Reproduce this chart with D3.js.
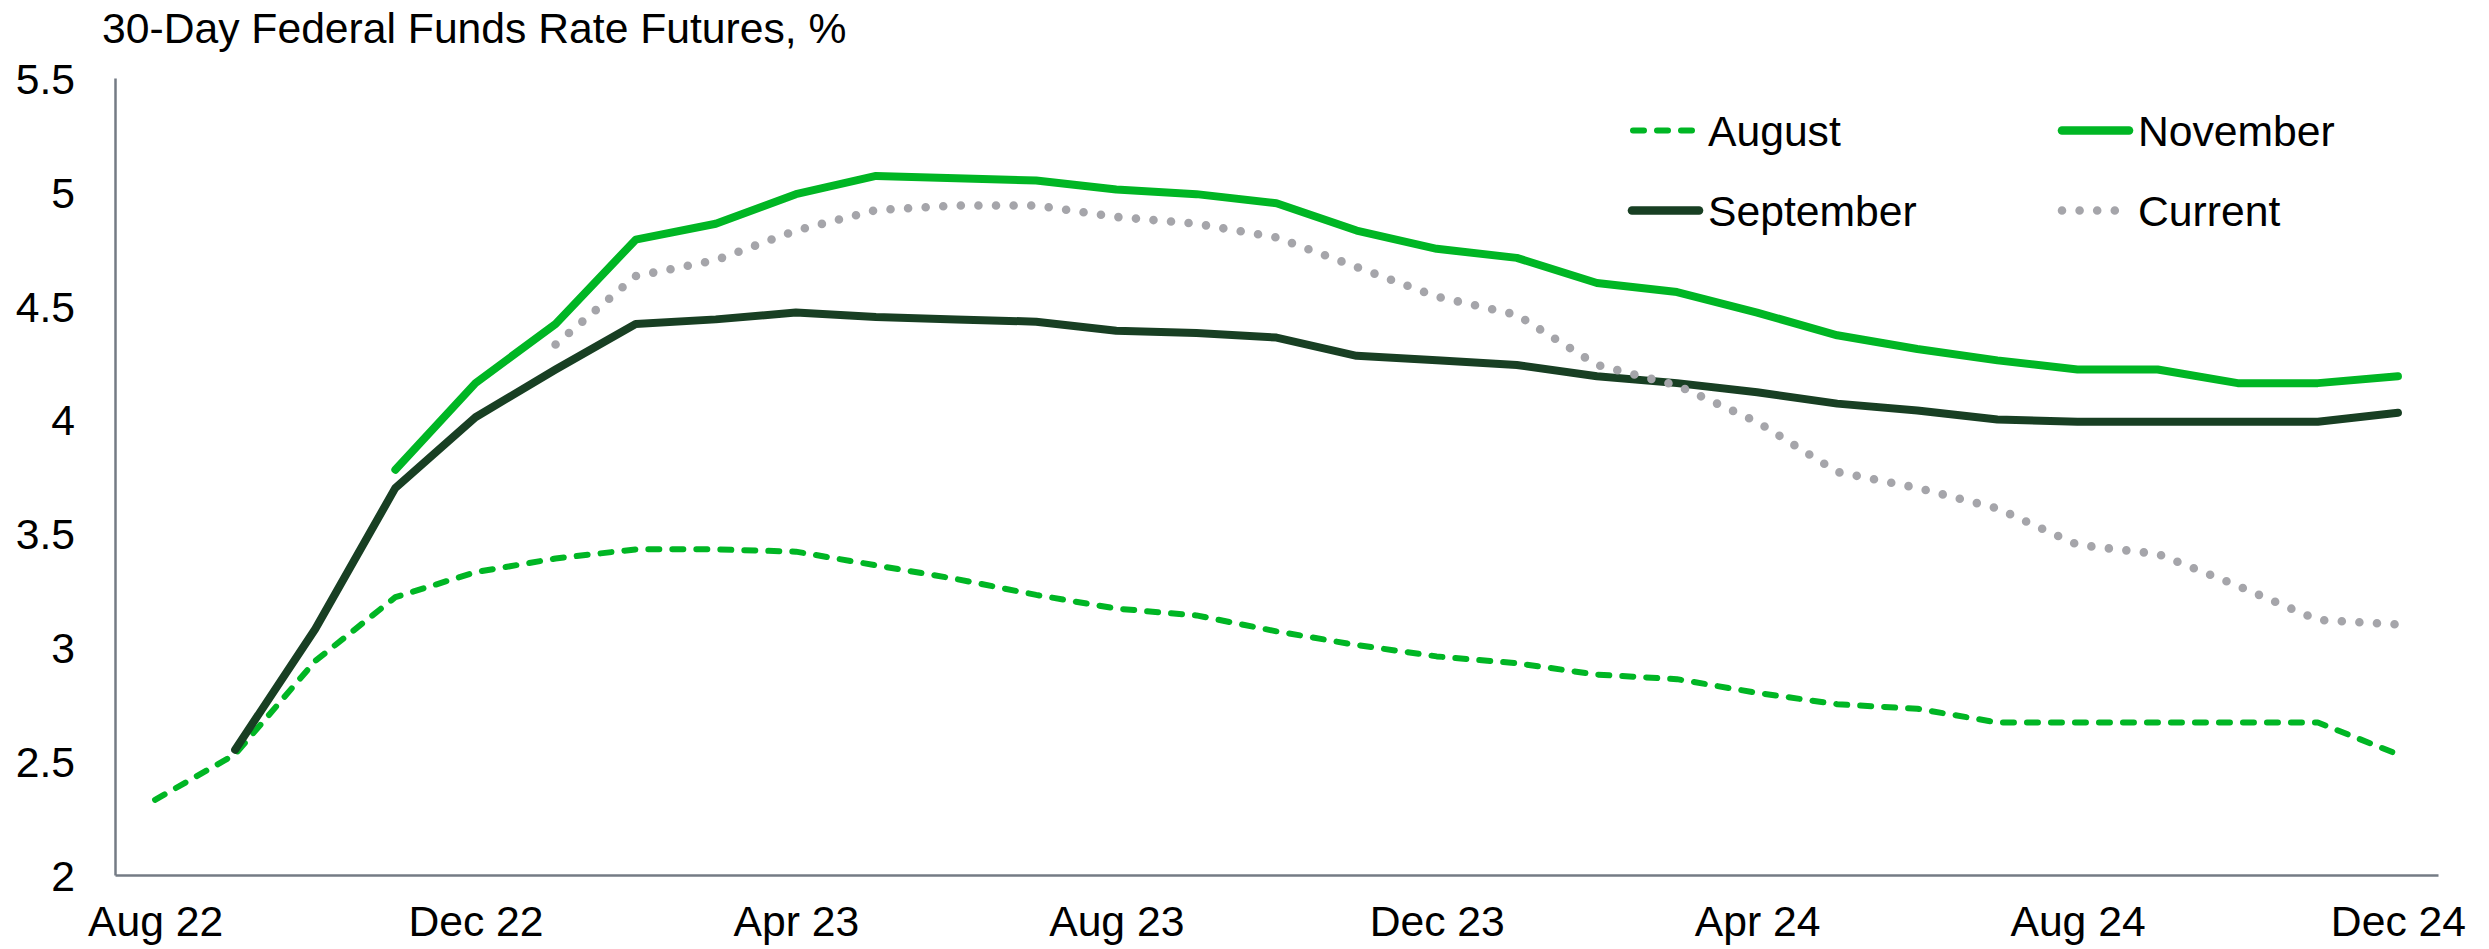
<!DOCTYPE html>
<html>
<head>
<meta charset="utf-8">
<script src="https://cdn.jsdelivr.net/npm/d3@7"></script>
<style>
  html, body { margin: 0; padding: 0; background: #ffffff; }
  svg { display: block; }
  text { font-family: "Liberation Sans", Arial, sans-serif; fill: #000; }
</style>
</head>
<body>
<script>
// Monthly contract months on the horizontal axis
const months = [
  "Aug 22", "Sep 22", "Oct 22", "Nov 22", "Dec 22",
  "Jan 23", "Feb 23", "Mar 23", "Apr 23", "May 23", "Jun 23", "Jul 23",
  "Aug 23", "Sep 23", "Oct 23", "Nov 23", "Dec 23",
  "Jan 24", "Feb 24", "Mar 24", "Apr 24", "May 24", "Jun 24", "Jul 24",
  "Aug 24", "Sep 24", "Oct 24", "Nov 24", "Dec 24"
];
const xTickLabels = ["Aug 22", "Dec 22", "Apr 23", "Aug 23", "Dec 23", "Apr 24", "Aug 24", "Dec 24"];
const yTickValues = [2, 2.5, 3, 3.5, 4, 4.5, 5, 5.5];

// Implied rate curves (%), one value per contract month; null = not priced yet
const august = [2.33, 2.53, 2.94, 3.22, 3.33, 3.39, 3.43, 3.43, 3.42, 3.36, 3.30, 3.23, 3.17, 3.14,
  3.07, 3.01, 2.96, 2.93, 2.88, 2.86, 2.80, 2.75, 2.73, 2.67, 2.67, 2.67, 2.67, 2.67, 2.53];
const september = [null, 2.55, 3.08, 3.70, 4.01, 4.22, 4.42, 4.44, 4.47, 4.45, 4.44, 4.43, 4.39, 4.38,
  4.36, 4.28, 4.26, 4.24, 4.19, 4.16, 4.12, 4.07, 4.04, 4.00, 3.99, 3.99, 3.99, 3.99, 4.03];
const november = [null, null, null, 3.78, 4.16, 4.42, 4.79, 4.86, 4.99, 5.07, 5.06, 5.05, 5.01, 4.99,
  4.95, 4.83, 4.75, 4.71, 4.60, 4.56, 4.47, 4.37, 4.31, 4.26, 4.22, 4.22, 4.16, 4.16, 4.19];
const current = [null, null, null, null, null, 4.33, 4.63, 4.70, 4.83, 4.92, 4.94, 4.94, 4.89, 4.86,
  4.80, 4.67, 4.54, 4.46, 4.24, 4.15, 3.99, 3.77, 3.70, 3.61, 3.45, 3.41, 3.27, 3.12, 3.10];

const seriesNames = ["August", "November", "September", "Current"];

const W = 2489, H = 949;
const BRIGHT = "#00B624", DARK = "#183F23", GREY = "#A5A5AA", AXIS = "#747B85";

const styles = {
  August:    { values: august,    color: BRIGHT, width: 6,   dash: "11 13", cap: "round" },
  November:  { values: november,  color: BRIGHT, width: 8,   dash: null,    cap: "round" },
  September: { values: september, color: DARK,   width: 8,   dash: null,    cap: "round" },
  Current:   { values: current,   color: GREY,   width: 8.6, dash: "0 17.6", cap: "round" }
};

const svg = d3.select("body").append("svg")
  .attr("width", W).attr("height", H);

const x = d3.scalePoint().domain(months).range([115, 2438]).padding(0.5);
const y = d3.scaleLinear().domain([2, 5.5]).range([875, 78]);

// Title
svg.append("text")
  .attr("x", 102).attr("y", 43)
  .style("font-size", "42.67px")
  .text("30-Day Federal Funds Rate Futures, %");

// Y axis
const yAxis = svg.append("g")
  .attr("transform", "translate(115,0)")
  .call(d3.axisLeft(y).tickValues(yTickValues).tickSize(0).tickPadding(40)
    .tickFormat(d => String(d)));
yAxis.select(".domain").attr("stroke", AXIS).attr("stroke-width", 2.5);
yAxis.selectAll("text")
  .style("font-size", "42.67px")
  .style("font-family", "'Liberation Sans', Arial, sans-serif")
  .attr("fill", "#000")
  .attr("dy", "0.36em");

// X axis
const xAxis = svg.append("g")
  .attr("transform", "translate(0,875)")
  .call(d3.axisBottom(x).tickValues(xTickLabels).tickSize(0).tickPadding(31));
xAxis.select(".domain").attr("stroke", AXIS).attr("stroke-width", 2.5);
xAxis.selectAll("text")
  .style("font-size", "42.67px")
  .style("font-family", "'Liberation Sans', Arial, sans-serif")
  .attr("fill", "#000")
  .attr("dy", "0.71em");

// Series lines
const line = d3.line()
  .defined(d => d.v != null)
  .x(d => x(d.m))
  .y(d => y(d.v));

const plot = svg.append("g");
seriesNames.forEach(name => {
  const s = styles[name];
  const pts = months.map((m, i) => ({ m, v: s.values[i] }));
  plot.append("path")
    .datum(pts)
    .attr("fill", "none")
    .attr("stroke", s.color)
    .attr("stroke-width", s.width)
    .attr("stroke-linecap", s.cap)
    .attr("stroke-linejoin", "round")
    .attr("stroke-dasharray", s.dash)
    .attr("d", line);
});

// Legend: two columns, two rows
const legendItems = [
  { name: "August",    col: 0, row: 0 },
  { name: "November",  col: 1, row: 0 },
  { name: "September", col: 0, row: 1 },
  { name: "Current",   col: 1, row: 1 }
];
const colX = [1632, 2062];
const rowY = [130.5, 210.5];
const legend = svg.append("g");
legendItems.forEach(it => {
  const s = styles[it.name];
  const x0 = colX[it.col];
  const yy = rowY[it.row];
  let x1 = x0 + 67;
  if (it.name === "August") x1 = x0 + 60;
  if (it.name === "Current") x1 = x0 + 53;
  legend.append("line")
    .attr("x1", x0 + (it.name === "August" ? 1 : 0)).attr("x2", x1)
    .attr("y1", yy).attr("y2", yy)
    .attr("stroke", s.color)
    .attr("stroke-width", it.name === "August" ? 6 : 8.6)
    .attr("stroke-linecap", "round")
    .attr("stroke-dasharray", s.dash);
  legend.append("text")
    .attr("x", x0 + 76).attr("y", yy + 15)
    .style("font-size", "42.67px")
    .text(it.name);
});
</script>
</body>
</html>
